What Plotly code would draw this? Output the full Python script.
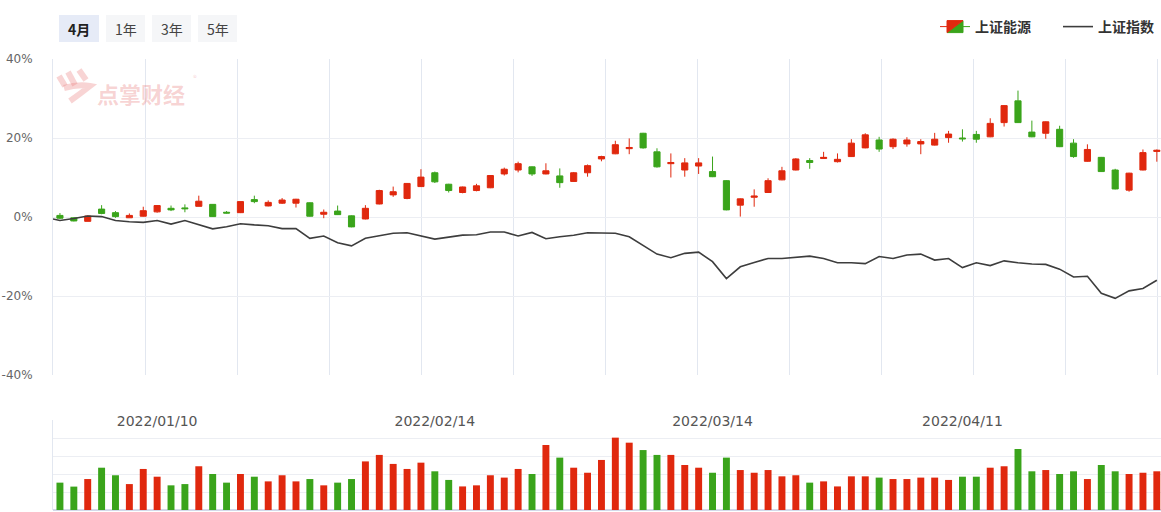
import plotly.graph_objects as go

# ---------------- data ----------------
# 上证能源: relative change (%) vs. base, daily OHLC, 2021/12/29 - 2022/04/29
opens = [0.4, -0.2, -1.1, 2.0, 1.1, -0.2, 0.2, 1.3, 2.2, 2.3,
         2.7, 3.2, 1.2, 1.1, 4.4, 2.8, 3.5, 3.5, 3.6, 0.7,
         1.5, 0.3, -0.5, 3.3, 5.6, 4.7, 7.7, 11.2, 8.3, 6.2,
         6.7, 7.4, 10.9, 11.9, 12.7, 10.9, 10.4, 9.0, 11.2, 14.7,
         16.0, 17.3, 21.2, 16.5, 13.5, 11.9, 12.9, 11.5, 9.2, 3.0,
         5.0, 6.2, 9.4, 11.9, 14.3, 14.8, 14.0, 15.3, 17.5, 19.5,
         17.8, 18.5, 18.5, 18.2, 20.1, 20.0, 20.9, 20.3, 23.9, 29.4,
         21.5, 21.2, 22.2, 18.7, 14.1, 15.1, 11.9, 6.8, 11.9, 16.6]
closes = [-0.3, -1.0, 0.25, 0.9, 0.1, 0.4, 1.6, 2.9, 1.8, 2.1,
          4.0, 0.1, 1.0, 3.9, 3.9, 3.7, 4.3, 4.5, 0.2, 1.2,
          0.6, -2.5, 2.2, 6.7, 6.4, 8.5, 10.1, 8.9, 6.7, 7.6,
          7.9, 10.5, 12.1, 13.5, 10.9, 11.7, 8.7, 11.2, 13.0, 15.3,
          18.3, 17.6, 17.5, 12.7, 13.8, 13.7, 13.7, 10.2, 1.8, 4.6,
          5.3, 9.2, 11.7, 14.7, 13.8, 15.1, 14.6, 18.7, 20.8, 17.2,
          19.7, 19.5, 19.1, 19.7, 21.0, 19.8, 19.7, 23.7, 28.2, 23.9,
          20.3, 24.1, 17.8, 15.3, 17.1, 11.5, 7.1, 11.1, 16.3, 16.9]
highs = [1.0, -0.1, 0.3, 3.0, 1.5, 0.9, 2.6, 3.0, 2.9, 3.2,
         5.4, 3.2, 1.5, 3.9, 5.4, 4.2, 4.8, 4.6, 3.7, 1.9,
         2.9, 0.4, 3.0, 6.9, 7.7, 8.6, 12.1, 11.5, 8.4, 7.7,
         8.4, 10.6, 12.5, 14.0, 12.8, 13.6, 12.3, 11.4, 13.3, 15.5,
         19.3, 19.9, 21.3, 17.4, 16.1, 14.9, 14.9, 15.3, 9.3, 4.7,
         7.0, 9.8, 12.7, 14.9, 14.9, 16.5, 16.1, 19.7, 21.2, 20.3,
         19.9, 20.2, 19.7, 21.3, 21.8, 22.2, 21.8, 25.0, 28.3, 32.0,
         24.4, 24.2, 23.1, 19.7, 18.4, 15.2, 12.2, 11.2, 17.1, 17.1]
lows = [-0.5, -1.1, -1.1, 0.7, -0.2, -0.2, 0.1, 1.1, 1.5, 1.2,
        2.7, 0.0, 0.9, 1.0, 3.5, 2.7, 3.3, 2.4, 0.1, -0.3,
        0.5, -2.6, -0.6, 3.2, 5.1, 4.5, 7.6, 8.6, 6.2, 6.0,
        6.5, 7.3, 10.5, 11.3, 10.4, 10.8, 7.4, 8.9, 10.2, 14.1,
        15.9, 15.9, 17.3, 12.5, 10.0, 10.2, 10.9, 10.1, 1.7, 0.1,
        2.6, 6.1, 9.3, 11.8, 12.2, 14.7, 13.8, 15.2, 17.4, 16.5,
        17.2, 17.8, 15.9, 18.1, 18.8, 19.1, 18.8, 20.2, 22.9, 23.8,
        20.2, 19.8, 17.7, 15.0, 14.0, 11.4, 7.0, 6.4, 11.8, 14.0]

# 上证指数: relative change (%), base point + one value per trading day
index_pct = [-0.5,
             -0.9, -0.4, 0.25, 0.1, -0.9, -1.2, -1.35, -0.9, -1.8, -0.9,
             -2.0, -3.0, -2.45, -1.7, -2.0, -2.2, -2.95, -2.95, -5.4, -4.8,
             -6.5, -7.3, -5.4, -4.8, -4.1, -4.0, -4.8, -5.6, -5.1, -4.6,
             -4.5, -3.8, -3.8, -4.8, -3.9, -5.5, -5.0, -4.6, -4.0, -4.05,
             -4.1, -5.0, -7.1, -9.4, -10.3, -9.2, -8.9, -11.3, -15.6, -12.6,
             -11.5, -10.5, -10.5, -10.2, -9.9, -10.5, -11.6, -11.6, -11.8, -10.0,
             -10.5, -9.6, -9.4, -10.9, -10.5, -12.8, -11.6, -12.3, -11.1, -11.6,
             -11.9, -12.0, -13.2, -15.2, -15.0, -19.3, -20.6, -18.7, -18.1, -16.0]

# 成交量 (relative units)
volume = [1.52, 1.30, 1.72, 2.35, 1.93, 1.44, 2.28, 1.85, 1.37, 1.44,
          2.43, 2.00, 1.52, 2.00, 1.85, 1.59, 1.93, 1.59, 1.72, 1.37,
          1.52, 1.72, 2.70, 3.06, 2.56, 2.28, 2.63, 2.15, 1.67, 1.31,
          1.37, 1.93, 1.80, 2.28, 2.00, 3.61, 2.91, 2.35, 2.07, 2.78,
          4.02, 3.74, 3.33, 3.06, 3.06, 2.50, 2.35, 2.07, 2.91, 2.22,
          2.07, 2.22, 1.87, 1.93, 1.52, 1.59, 1.31, 1.87, 1.87, 1.80,
          1.72, 1.72, 1.80, 1.80, 1.67, 1.85, 1.85, 2.35, 2.43, 3.39,
          2.15, 2.22, 2.00, 2.15, 1.72, 2.50, 2.15, 2.00, 2.07, 2.15]

tick_idx = [7, 27, 47, 65]
tick_labels = ["2022/01/10", "2022/02/14", "2022/03/14", "2022/04/11"]
y_ticks = [-40, -20, 0, 20, 40]
y_tick_labels = [f"{v}%" for v in y_ticks]
range_buttons = ["4月", "1年", "3年", "5年"]

# ---------------- style ----------------
RED = "#e0280e"
GREEN = "#3aa41b"
LINE = "#3d3d3d"
GRID = "#eceef3"
VGRID = "#e2e7f0"
FONT = "Microsoft YaHei, Noto Sans CJK SC, sans-serif"
NUM_FONT = "DejaVu Sans, Noto Sans, sans-serif"

W, H = 1161, 512
L, R, T, B = 53, 0, 59, 2
plot_w = W - L - R
plot_h = H - T - B
main_bottom_px = 375
vol_top_px = 420


def py2paper(py):
    return (H - B - py) / plot_h


def px2paper(px):
    return (px - L) / plot_w


n = len(opens)
xs = list(range(n))
line_x = [-0.5] + xs
vol_colors = [RED if c >= o else GREEN for o, c in zip(opens, closes)]

fig = go.Figure()

fig.add_trace(go.Candlestick(
    x=xs, open=opens, high=highs, low=lows, close=closes,
    name="上证能源",
    increasing=dict(line=dict(color=RED, width=1), fillcolor=RED),
    decreasing=dict(line=dict(color=GREEN, width=1), fillcolor=GREEN),
    whiskerwidth=0,
    xaxis="x", yaxis="y",
    hoverinfo="skip",
))

fig.add_trace(go.Scatter(
    x=line_x, y=index_pct, mode="lines", name="上证指数",
    line=dict(color=LINE, width=1.6),
    xaxis="x", yaxis="y",
    hoverinfo="skip",
))

fig.add_trace(go.Bar(
    x=xs, y=volume, width=0.5, marker=dict(color=vol_colors, line=dict(width=0)),
    showlegend=False, xaxis="x2", yaxis="y2", hoverinfo="skip",
))

x_range = [-0.5, 79.3]
grid_step = 92 / (plot_w / (x_range[1] - x_range[0]))

fig.update_layout(
    width=W, height=H,
    margin=dict(l=L, r=R, t=T, b=B, autoexpand=False),
    paper_bgcolor="white", plot_bgcolor="white",
    font=dict(family=FONT, color="#333333"),
    boxgap=0.37,
    showlegend=True,
    legend=dict(
        orientation="h", x=px2paper(935), xanchor="left",
        y=1 + (T - 27) / plot_h, yanchor="middle",
        font=dict(size=14, color="#333333", weight=600),
        entrywidth=78, entrywidthmode="pixels",
        itemwidth=30, tracegroupgap=0,
        bgcolor="rgba(0,0,0,0)",
    ),
    xaxis=dict(
        domain=[0, 1], anchor="y", range=x_range, automargin=False,
        rangeslider=dict(visible=False),
        showgrid=False, zeroline=False, showline=False,
        tickmode="array", tickvals=tick_idx, ticktext=tick_labels,
        ticks="", ticklabelstandoff=36,
        tickfont=dict(size=14, color="#555555", family=NUM_FONT),
        minor=dict(tickmode="linear", tick0=-0.5, dtick=grid_step,
                   showgrid=True, gridcolor=VGRID, gridwidth=1, ticks=""),
        fixedrange=True,
    ),
    yaxis=dict(
        domain=[py2paper(main_bottom_px), 1], anchor="x", automargin=False,
        range=[-40, 40], tickmode="array", tickvals=y_ticks, ticktext=y_tick_labels,
        showgrid=True, gridcolor=GRID, gridwidth=1,
        zeroline=False, showline=True, linecolor=VGRID,
        ticks="", ticklabelstandoff=17,
        tickfont=dict(size=12, color="#666666", family=NUM_FONT),
        fixedrange=True,
    ),
    xaxis2=dict(
        domain=[0, 1], anchor="y2", range=x_range, automargin=False,
        showgrid=False, zeroline=False, showline=False,
        showticklabels=False, ticks="", fixedrange=True,
    ),
    yaxis2=dict(
        domain=[0, py2paper(vol_top_px)], anchor="x2", automargin=False,
        range=[0, 5], dtick=1,
        showgrid=True, gridcolor=GRID, gridwidth=1,
        zeroline=True, zerolinecolor="#d3d9ea", zerolinewidth=2,
        showline=True, linecolor=VGRID,
        showticklabels=False, ticks="", fixedrange=True,
    ),
)

# range selector buttons (decorative)
shapes = []
annotations = []
btn_x = [(59, 99), (106, 145), (152, 191), (198, 237)]
for i, (label, (bx0, bx1)) in enumerate(zip(range_buttons, btn_x)):
    active = i == 0
    shapes.append(dict(
        type="rect", xref="paper", yref="paper",
        x0=px2paper(bx0), x1=px2paper(bx1),
        y0=py2paper(42), y1=py2paper(15),
        fillcolor="#e6ebf7" if active else "#f5f6f8",
        line=dict(width=0), layer="below",
    ))
    annotations.append(dict(
        xref="paper", yref="paper",
        x=px2paper((bx0 + bx1) / 2), y=py2paper(28.5),
        text=f"<b>{label}</b>" if active else label,
        showarrow=False, xanchor="center", yanchor="middle",
        font=dict(size=14, color="#222222" if active else "#444444"),
    ))

# watermark logo (点掌财经)
WM = "rgba(232,120,120,0.32)"
for (ax0, ay0, ax1, ay1) in [(59, 76, 65, 86), (68, 72, 75, 85), (79, 70, 86, 80)]:
    shapes.append(dict(
        type="line", xref="paper", yref="paper",
        x0=px2paper(ax0), y0=py2paper(ay0), x1=px2paper(ax1), y1=py2paper(ay1),
        line=dict(color=WM, width=6), layer="below",
    ))
shapes.append(dict(
    type="path", xref="paper", yref="paper",
    path=(f"M {px2paper(64)} {py2paper(88)} "
          f"Q {px2paper(78)} {py2paper(84)} {px2paper(90)} {py2paper(86)} "
          f"Q {px2paper(80)} {py2paper(94)} {px2paper(70)} {py2paper(101)}"),
    line=dict(color=WM, width=6), layer="below",
))
annotations.append(dict(
    xref="paper", yref="paper", x=px2paper(95), y=py2paper(93),
    text="<b>点掌财经</b>", showarrow=False, xanchor="left", yanchor="middle",
    font=dict(size=22, color=WM),
))
annotations.append(dict(
    xref="paper", yref="paper", x=px2paper(191), y=py2paper(77),
    text="®", showarrow=False, xanchor="left", yanchor="middle",
    font=dict(size=8, color=WM),
))

fig.update_layout(shapes=shapes, annotations=annotations)

fig.write_html("out.html", config=dict(displayModeBar=False, staticPlot=True))
